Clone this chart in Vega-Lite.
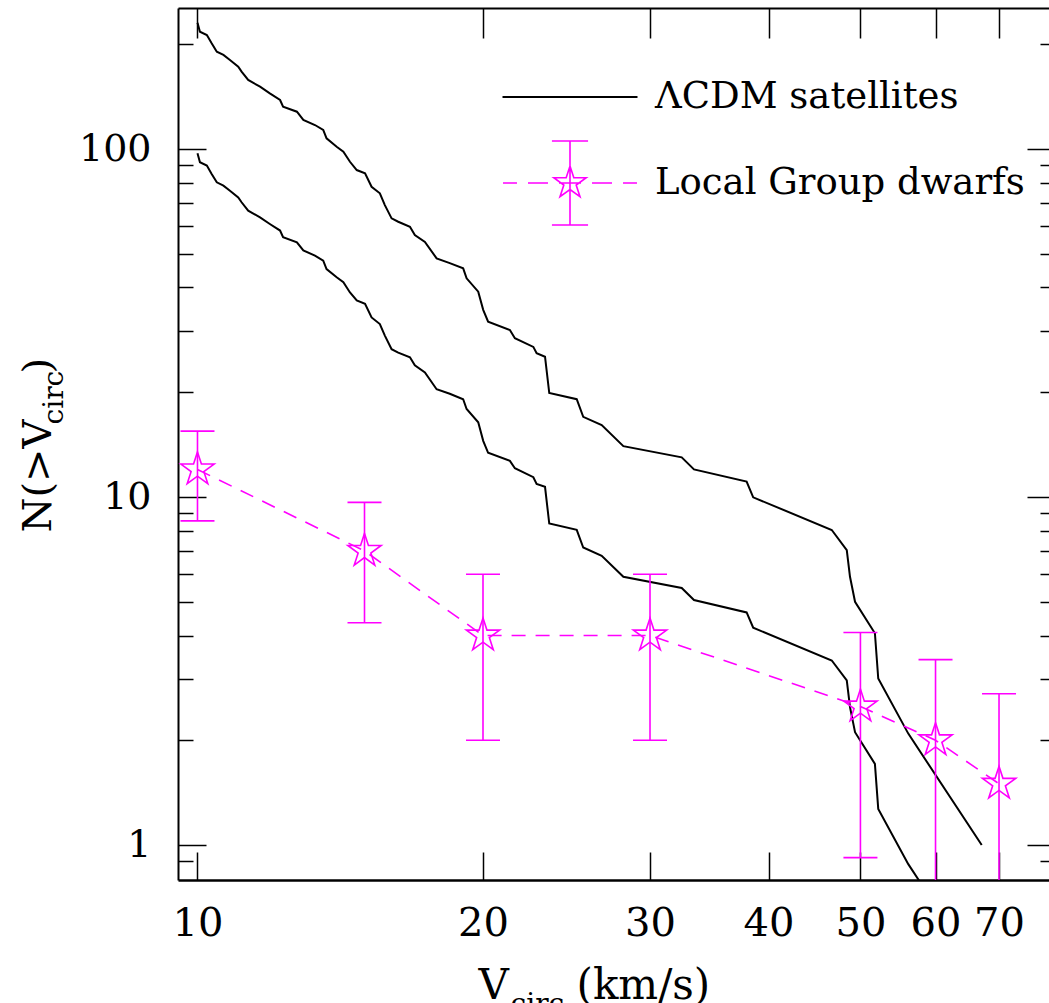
{
  "$schema": "https://vega.github.io/schema/vega-lite/v6.json",
  "width": 871,
  "height": 872,
  "autosize": {"type": "none"},
  "padding": {"left": 178, "top": 8, "right": 0, "bottom": 123},
  "background": "white",
  "config": {
    "view": {"stroke": null},
    "axis": {"grid": false, "titleColor": "black", "titleFont": "DejaVu Serif", "titleFontWeight": "normal", "labelColor": "black", "tickColor": "black", "domainColor": "black"}
  },
  "datasets": {
    "lcdm": [
      {"curve": "upper", "model": "ΛCDM satellites", "V": 10.0, "N": 230.6},
      {"curve": "upper", "model": "ΛCDM satellites", "V": 10.06, "N": 217.3},
      {"curve": "upper", "model": "ΛCDM satellites", "V": 10.23, "N": 212.6},
      {"curve": "upper", "model": "ΛCDM satellites", "V": 10.35, "N": 201.2},
      {"curve": "upper", "model": "ΛCDM satellites", "V": 10.48, "N": 190.4},
      {"curve": "upper", "model": "ΛCDM satellites", "V": 10.65, "N": 186.3},
      {"curve": "upper", "model": "ΛCDM satellites", "V": 10.82, "N": 180.2},
      {"curve": "upper", "model": "ΛCDM satellites", "V": 11.04, "N": 172.4},
      {"curve": "upper", "model": "ΛCDM satellites", "V": 11.13, "N": 166.8},
      {"curve": "upper", "model": "ΛCDM satellites", "V": 11.31, "N": 157.9},
      {"curve": "upper", "model": "ΛCDM satellites", "V": 11.64, "N": 151.0},
      {"curve": "upper", "model": "ΛCDM satellites", "V": 11.92, "N": 144.5},
      {"curve": "upper", "model": "ΛCDM satellites", "V": 12.22, "N": 138.3},
      {"curve": "upper", "model": "ΛCDM satellites", "V": 12.31, "N": 132.3},
      {"curve": "upper", "model": "ΛCDM satellites", "V": 12.73, "N": 128.0},
      {"curve": "upper", "model": "ΛCDM satellites", "V": 12.93, "N": 121.2},
      {"curve": "upper", "model": "ΛCDM satellites", "V": 13.30, "N": 117.2},
      {"curve": "upper", "model": "ΛCDM satellites", "V": 13.57, "N": 113.4},
      {"curve": "upper", "model": "ΛCDM satellites", "V": 13.68, "N": 107.3},
      {"curve": "upper", "model": "ΛCDM satellites", "V": 14.02, "N": 101.5},
      {"curve": "upper", "model": "ΛCDM satellites", "V": 14.25, "N": 98.2},
      {"curve": "upper", "model": "ΛCDM satellites", "V": 14.48, "N": 91.9},
      {"curve": "upper", "model": "ΛCDM satellites", "V": 14.72, "N": 87.0},
      {"curve": "upper", "model": "ΛCDM satellites", "V": 15.02, "N": 85.2},
      {"curve": "upper", "model": "ΛCDM satellites", "V": 15.26, "N": 77.9},
      {"curve": "upper", "model": "ΛCDM satellites", "V": 15.57, "N": 74.6},
      {"curve": "upper", "model": "ΛCDM satellites", "V": 15.76, "N": 69.0},
      {"curve": "upper", "model": "ΛCDM satellites", "V": 16.02, "N": 63.2},
      {"curve": "upper", "model": "ΛCDM satellites", "V": 16.28, "N": 61.8},
      {"curve": "upper", "model": "ΛCDM satellites", "V": 16.75, "N": 59.8},
      {"curve": "upper", "model": "ΛCDM satellites", "V": 16.95, "N": 56.6},
      {"curve": "upper", "model": "ΛCDM satellites", "V": 17.37, "N": 54.1},
      {"curve": "upper", "model": "ΛCDM satellites", "V": 17.87, "N": 48.5},
      {"curve": "upper", "model": "ΛCDM satellites", "V": 18.45, "N": 47.0},
      {"curve": "upper", "model": "ΛCDM satellites", "V": 19.06, "N": 45.4},
      {"curve": "upper", "model": "ΛCDM satellites", "V": 19.22, "N": 42.5},
      {"curve": "upper", "model": "ΛCDM satellites", "V": 19.77, "N": 38.9},
      {"curve": "upper", "model": "ΛCDM satellites", "V": 20.01, "N": 34.5},
      {"curve": "upper", "model": "ΛCDM satellites", "V": 20.25, "N": 31.9},
      {"curve": "upper", "model": "ΛCDM satellites", "V": 21.35, "N": 30.2},
      {"curve": "upper", "model": "ΛCDM satellites", "V": 21.61, "N": 28.6},
      {"curve": "upper", "model": "ΛCDM satellites", "V": 22.60, "N": 27.0},
      {"curve": "upper", "model": "ΛCDM satellites", "V": 22.78, "N": 25.9},
      {"curve": "upper", "model": "ΛCDM satellites", "V": 23.25, "N": 25.3},
      {"curve": "upper", "model": "ΛCDM satellites", "V": 23.49, "N": 19.9},
      {"curve": "upper", "model": "ΛCDM satellites", "V": 25.11, "N": 19.1},
      {"curve": "upper", "model": "ΛCDM satellites", "V": 25.51, "N": 17.0},
      {"curve": "upper", "model": "ΛCDM satellites", "V": 26.68, "N": 16.1},
      {"curve": "upper", "model": "ΛCDM satellites", "V": 28.12, "N": 14.0},
      {"curve": "upper", "model": "ΛCDM satellites", "V": 32.40, "N": 13.0},
      {"curve": "upper", "model": "ΛCDM satellites", "V": 33.38, "N": 12.0},
      {"curve": "upper", "model": "ΛCDM satellites", "V": 37.93, "N": 11.07},
      {"curve": "upper", "model": "ΛCDM satellites", "V": 38.54, "N": 9.98},
      {"curve": "upper", "model": "ΛCDM satellites", "V": 46.64, "N": 8.04},
      {"curve": "upper", "model": "ΛCDM satellites", "V": 48.37, "N": 7.04},
      {"curve": "upper", "model": "ΛCDM satellites", "V": 48.75, "N": 5.90},
      {"curve": "upper", "model": "ΛCDM satellites", "V": 49.35, "N": 5.00},
      {"curve": "upper", "model": "ΛCDM satellites", "V": 51.79, "N": 4.06},
      {"curve": "upper", "model": "ΛCDM satellites", "V": 52.21, "N": 3.01},
      {"curve": "upper", "model": "ΛCDM satellites", "V": 56.16, "N": 2.09},
      {"curve": "upper", "model": "ΛCDM satellites", "V": 67.12, "N": 1.0},
      {"curve": "lower", "model": "ΛCDM satellites", "V": 10.0, "N": 97.2},
      {"curve": "lower", "model": "ΛCDM satellites", "V": 10.06, "N": 91.6},
      {"curve": "lower", "model": "ΛCDM satellites", "V": 10.23, "N": 89.6},
      {"curve": "lower", "model": "ΛCDM satellites", "V": 10.35, "N": 84.8},
      {"curve": "lower", "model": "ΛCDM satellites", "V": 10.48, "N": 80.2},
      {"curve": "lower", "model": "ΛCDM satellites", "V": 10.65, "N": 78.5},
      {"curve": "lower", "model": "ΛCDM satellites", "V": 10.82, "N": 75.9},
      {"curve": "lower", "model": "ΛCDM satellites", "V": 11.04, "N": 72.6},
      {"curve": "lower", "model": "ΛCDM satellites", "V": 11.13, "N": 70.3},
      {"curve": "lower", "model": "ΛCDM satellites", "V": 11.31, "N": 66.5},
      {"curve": "lower", "model": "ΛCDM satellites", "V": 11.64, "N": 63.6},
      {"curve": "lower", "model": "ΛCDM satellites", "V": 11.92, "N": 60.9},
      {"curve": "lower", "model": "ΛCDM satellites", "V": 12.22, "N": 58.3},
      {"curve": "lower", "model": "ΛCDM satellites", "V": 12.31, "N": 55.8},
      {"curve": "lower", "model": "ΛCDM satellites", "V": 12.73, "N": 53.9},
      {"curve": "lower", "model": "ΛCDM satellites", "V": 12.93, "N": 51.1},
      {"curve": "lower", "model": "ΛCDM satellites", "V": 13.30, "N": 49.4},
      {"curve": "lower", "model": "ΛCDM satellites", "V": 13.57, "N": 47.8},
      {"curve": "lower", "model": "ΛCDM satellites", "V": 13.68, "N": 45.2},
      {"curve": "lower", "model": "ΛCDM satellites", "V": 14.02, "N": 42.8},
      {"curve": "lower", "model": "ΛCDM satellites", "V": 14.25, "N": 41.4},
      {"curve": "lower", "model": "ΛCDM satellites", "V": 14.48, "N": 38.7},
      {"curve": "lower", "model": "ΛCDM satellites", "V": 14.72, "N": 36.7},
      {"curve": "lower", "model": "ΛCDM satellites", "V": 15.02, "N": 35.9},
      {"curve": "lower", "model": "ΛCDM satellites", "V": 15.26, "N": 32.8},
      {"curve": "lower", "model": "ΛCDM satellites", "V": 15.57, "N": 31.4},
      {"curve": "lower", "model": "ΛCDM satellites", "V": 15.76, "N": 29.1},
      {"curve": "lower", "model": "ΛCDM satellites", "V": 16.02, "N": 26.6},
      {"curve": "lower", "model": "ΛCDM satellites", "V": 16.28, "N": 26.0},
      {"curve": "lower", "model": "ΛCDM satellites", "V": 16.75, "N": 25.2},
      {"curve": "lower", "model": "ΛCDM satellites", "V": 16.95, "N": 23.9},
      {"curve": "lower", "model": "ΛCDM satellites", "V": 17.37, "N": 22.8},
      {"curve": "lower", "model": "ΛCDM satellites", "V": 17.87, "N": 20.4},
      {"curve": "lower", "model": "ΛCDM satellites", "V": 18.45, "N": 19.8},
      {"curve": "lower", "model": "ΛCDM satellites", "V": 19.06, "N": 19.1},
      {"curve": "lower", "model": "ΛCDM satellites", "V": 19.22, "N": 17.9},
      {"curve": "lower", "model": "ΛCDM satellites", "V": 19.77, "N": 16.4},
      {"curve": "lower", "model": "ΛCDM satellites", "V": 20.01, "N": 14.5},
      {"curve": "lower", "model": "ΛCDM satellites", "V": 20.25, "N": 13.4},
      {"curve": "lower", "model": "ΛCDM satellites", "V": 21.35, "N": 12.7},
      {"curve": "lower", "model": "ΛCDM satellites", "V": 21.61, "N": 12.1},
      {"curve": "lower", "model": "ΛCDM satellites", "V": 22.60, "N": 11.4},
      {"curve": "lower", "model": "ΛCDM satellites", "V": 22.78, "N": 10.9},
      {"curve": "lower", "model": "ΛCDM satellites", "V": 23.25, "N": 10.7},
      {"curve": "lower", "model": "ΛCDM satellites", "V": 23.49, "N": 8.39},
      {"curve": "lower", "model": "ΛCDM satellites", "V": 25.11, "N": 8.05},
      {"curve": "lower", "model": "ΛCDM satellites", "V": 25.51, "N": 7.16},
      {"curve": "lower", "model": "ΛCDM satellites", "V": 26.68, "N": 6.78},
      {"curve": "lower", "model": "ΛCDM satellites", "V": 28.12, "N": 5.90},
      {"curve": "lower", "model": "ΛCDM satellites", "V": 32.40, "N": 5.48},
      {"curve": "lower", "model": "ΛCDM satellites", "V": 33.38, "N": 5.06},
      {"curve": "lower", "model": "ΛCDM satellites", "V": 37.93, "N": 4.66},
      {"curve": "lower", "model": "ΛCDM satellites", "V": 38.54, "N": 4.21},
      {"curve": "lower", "model": "ΛCDM satellites", "V": 46.64, "N": 3.39},
      {"curve": "lower", "model": "ΛCDM satellites", "V": 48.37, "N": 2.97},
      {"curve": "lower", "model": "ΛCDM satellites", "V": 48.75, "N": 2.49},
      {"curve": "lower", "model": "ΛCDM satellites", "V": 49.35, "N": 2.11},
      {"curve": "lower", "model": "ΛCDM satellites", "V": 51.79, "N": 1.71},
      {"curve": "lower", "model": "ΛCDM satellites", "V": 52.21, "N": 1.27},
      {"curve": "lower", "model": "ΛCDM satellites", "V": 56.16, "N": 0.881},
      {"curve": "lower", "model": "ΛCDM satellites", "V": 67.12, "N": 0.421}
    ],
    "lg": [
      {"obs": "Local Group dwarfs", "V": 10, "N": 12, "lo": 8.54, "hi": 15.46},
      {"obs": "Local Group dwarfs", "V": 15, "N": 7, "lo": 4.35, "hi": 9.65},
      {"obs": "Local Group dwarfs", "V": 20, "N": 4, "lo": 2, "hi": 6},
      {"obs": "Local Group dwarfs", "V": 30, "N": 4, "lo": 2, "hi": 6},
      {"obs": "Local Group dwarfs", "V": 50, "N": 2.5, "lo": 0.92, "hi": 4.08},
      {"obs": "Local Group dwarfs", "V": 60, "N": 2, "lo": 0.586, "hi": 3.41},
      {"obs": "Local Group dwarfs", "V": 70, "N": 1.5, "lo": 0.275, "hi": 2.72}
    ]
  },
  "layer": [
    {
      "data": {"name": "lcdm"},
      "mark": {"type": "line", "strokeWidth": 2, "clip": true},
      "encoding": {
        "x": {
          "field": "V", "type": "quantitative",
          "scale": {"type": "log", "domain": [9.538, 79.03], "nice": false},
          "axis": {
            "orient": "bottom", "values": [10, 20, 30, 40, 50, 60, 70], "format": "d",
            "ticks": false, "domain": true, "domainWidth": 2.5,
            "labelFont": "DejaVu Serif", "labelFontSize": 40, "labelPadding": 55, "labelBaseline": "alphabetic",
            "labelOverlap": false, "labelFlush": false,
            "title": "V", "titleFontSize": 42, "titleX": 300, "titleY": 118, "titleAlign": "left", "titleBaseline": "alphabetic", "titleAngle": 0
          }
        },
        "y": {
          "field": "N", "type": "quantitative",
          "scale": {"type": "log", "domain": [0.7934, 254.2], "nice": false},
          "axis": {
            "orient": "left", "values": [1, 10, 100], "format": "d",
            "ticks": false, "domain": true, "domainWidth": 2,
            "labelFont": "DejaVu Serif", "labelFontSize": 38, "labelPadding": 27, "labelOverlap": false, "labelFlush": false,
            "title": "N(>V", "titleFontSize": 40, "titleX": -128, "titleY": 524, "titleAlign": "left", "titleBaseline": "alphabetic", "titleAngle": 270
          }
        },
        "color": {
          "field": "model", "type": "nominal",
          "scale": {"domain": ["ΛCDM satellites"], "range": ["black"]},
          "legend": {
            "orient": "none", "legendX": 349, "legendY": 46, "title": null, "padding": 0,
            "symbolType": "M-1.607,0L1.607,0", "symbolSize": 7056, "symbolStrokeWidth": 1.8,
            "labelFont": "DejaVu Serif", "labelFontSize": 37, "labelColor": "black", "labelOffset": 42, "labelLimit": 0
          }
        },
        "detail": {"field": "curve"}
      }
    },
    {
      "data": {"name": "lg"},
      "mark": {"type": "line", "color": "#ff00ff", "strokeWidth": 1.6, "strokeDash": [14, 10], "clip": true},
      "encoding": {
        "x": {
          "field": "V", "type": "quantitative",
          "scale": {"type": "log", "domain": [9.538, 79.03], "nice": false},
          "axis": {
            "orient": "top", "values": [10, 20, 30, 40, 50, 60, 70],
            "labels": false, "ticks": true, "tickSize": -30, "tickWidth": 1.5,
            "domain": true, "domainWidth": 2, "title": null
          }
        },
        "y": {
          "field": "N", "type": "quantitative",
          "scale": {"type": "log", "domain": [0.7934, 254.2], "nice": false},
          "axis": {
            "orient": "right", "offset": 6,
            "values": [0.9, 1, 2, 3, 4, 5, 6, 7, 8, 9, 10, 20, 30, 40, 50, 60, 70, 80, 90, 100, 200],
            "labels": false, "domain": false, "ticks": true, "tickWidth": 1.5,
            "tickSize": {"condition": {"test": "datum.value === 1 || datum.value === 10 || datum.value === 100", "value": -28}, "value": -15},
            "title": null
          }
        }
      }
    },
    {
      "data": {"name": "lg"},
      "mark": {"type": "rule", "strokeWidth": 1.6, "clip": true},
      "encoding": {
        "x": {
          "field": "V", "type": "quantitative",
          "scale": {"type": "log", "domain": [9.538, 79.03], "nice": false},
          "axis": {
            "orient": "bottom", "values": [10, 20, 30, 40, 50, 60, 70],
            "labels": false, "domain": false, "ticks": true, "tickSize": -28, "tickWidth": 1.5,
            "title": "circ", "titleFontSize": 28, "titleX": 332, "titleY": 132, "titleAlign": "left", "titleBaseline": "alphabetic", "titleAngle": 0
          }
        },
        "y": {
          "field": "lo", "type": "quantitative",
          "scale": {"type": "log", "domain": [0.7934, 254.2], "nice": false},
          "axis": {
            "orient": "left",
            "values": [0.9, 1, 2, 3, 4, 5, 6, 7, 8, 9, 10, 20, 30, 40, 50, 60, 70, 80, 90, 100, 200],
            "labels": false, "domain": false, "ticks": true, "tickWidth": 1.5,
            "tickSize": {"condition": {"test": "datum.value === 1 || datum.value === 10 || datum.value === 100", "value": -28}, "value": -15},
            "title": "circ", "titleFontSize": 28, "titleX": -116, "titleY": 416, "titleAlign": "left", "titleBaseline": "alphabetic", "titleAngle": 270
          }
        },
        "y2": {"field": "hi"},
        "color": {
          "field": "obs", "type": "nominal",
          "scale": {"domain": ["Local Group dwarfs"], "range": ["#ff00ff"]},
          "legend": {
            "orient": "none", "legendX": 349, "legendY": 132, "title": null, "padding": 0,
            "symbolType": "M-1.595,0L-1.262,0M-1.0,0L-0.524,0M-0.262,0L0.262,0M0.524,0L1.0,0M1.262,0L1.595,0M0,-1L0,1M-0.43,-1L0.43,-1M-0.43,1L0.43,1M0,-0.405L0.0909,-0.1252L0.3852,-0.1252L0.1471,0.0478L0.2381,0.3277L0,0.1547L-0.2381,0.3277L-0.1471,0.0478L-0.3852,-0.1252L-0.0909,-0.1252Z",
            "symbolSize": 7056, "symbolStrokeWidth": 1.6, "symbolFillColor": "transparent",
            "labelFont": "DejaVu Serif", "labelFontSize": 37, "labelColor": "black", "labelOffset": 42, "labelLimit": 0
          }
        }
      }
    },
    {
      "data": {"name": "lg"},
      "transform": [{"fold": ["lo", "hi"], "as": ["end", "val"]}],
      "mark": {"type": "tick", "orient": "horizontal", "color": "#ff00ff", "size": 34, "thickness": 1.6, "opacity": 1, "clip": true},
      "encoding": {
        "x": {
          "field": "V", "type": "quantitative",
          "scale": {"type": "log", "domain": [9.538, 79.03], "nice": false},
          "axis": {
            "orient": "bottom", "labels": false, "ticks": false, "domain": false,
            "title": "(km/s)", "titleFontSize": 42, "titleX": 398, "titleY": 118, "titleAlign": "left", "titleBaseline": "alphabetic", "titleAngle": 0
          }
        },
        "y": {
          "field": "val", "type": "quantitative",
          "scale": {"type": "log", "domain": [0.7934, 254.2], "nice": false},
          "axis": {
            "orient": "left", "labels": false, "ticks": false, "domain": false,
            "title": ")", "titleFontSize": 40, "titleX": -128, "titleY": 365, "titleAlign": "left", "titleBaseline": "alphabetic", "titleAngle": 270
          }
        }
      }
    },
    {
      "data": {"name": "lg"},
      "mark": {
        "type": "point",
        "shape": "M0,-1L0.2245,-0.309L0.9511,-0.309L0.3633,0.118L0.5878,0.809L0,0.382L-0.5878,0.809L-0.3633,0.118L-0.9511,-0.309L-0.2245,-0.309Z",
        "size": 1225, "filled": false, "color": "#ff00ff", "strokeWidth": 1.6, "opacity": 1
      },
      "encoding": {
        "x": {"field": "V", "type": "quantitative", "scale": {"type": "log", "domain": [9.538, 79.03], "nice": false}, "axis": null},
        "y": {"field": "N", "type": "quantitative", "scale": {"type": "log", "domain": [0.7934, 254.2], "nice": false}, "axis": null}
      }
    }
  ],
  "resolve": {
    "scale": {"color": "independent"},
    "axis": {"x": "independent", "y": "independent"},
    "legend": {"color": "independent"}
  }
}
